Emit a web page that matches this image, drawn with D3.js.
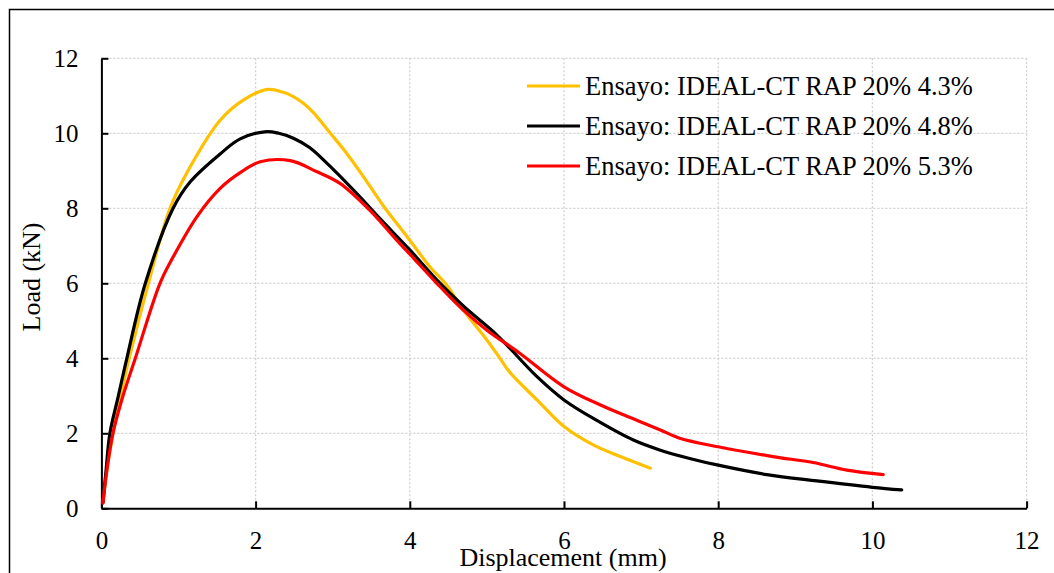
<!DOCTYPE html>
<html>
<head>
<meta charset="utf-8">
<script src="https://cdn.jsdelivr.net/npm/d3@7"></script>
<style>
  body { margin: 0; background: #fff; }
  text { font-family: "Liberation Serif", "Times New Roman", serif; fill: #000; }
</style>
</head>
<body>
<svg id="chart" width="1054" height="573"></svg>
<script>
// series names
const seriesNames = [
  'Ensayo: IDEAL-CT RAP 20% 4.3%',
  'Ensayo: IDEAL-CT RAP 20% 4.8%',
  'Ensayo: IDEAL-CT RAP 20% 5.3%'
];
const seriesColors = ['#FFC000', '#000000', '#FF0000'];

// displacement (mm) / load (kN)
const disp43 = [0.02, 0.07, 0.15, 0.25, 0.36, 0.61, 0.89, 1.15, 1.54, 1.85, 2.16, 2.35, 2.49, 2.62, 2.75, 2.97, 3.18, 3.40, 3.68, 3.83, 4.00, 4.26, 4.48, 4.69, 5.00, 5.17, 5.30, 5.65, 6.00, 6.38, 6.73, 7.12];
const load43 = [0.15, 1.0, 2.0, 3.0, 4.0, 6.0, 8.0, 9.1, 10.35, 10.9, 11.17, 11.1, 10.98, 10.8, 10.55, 10.0, 9.47, 8.84, 8.0, 7.6, 7.15, 6.44, 5.95, 5.3, 4.49, 4.0, 3.62, 2.89, 2.18, 1.69, 1.38, 1.07];

const disp48 = [0.02, 0.06, 0.11, 0.22, 0.33, 0.57, 0.93, 1.15, 1.54, 1.80, 2.12, 2.30, 2.49, 2.70, 2.88, 3.31, 3.61, 4.00, 4.35, 4.69, 5.13, 5.65, 6.00, 6.42, 6.90, 7.25, 7.63, 8.00, 8.63, 9.28, 10.00, 10.38];
const load48 = [0.15, 1.0, 2.0, 3.0, 4.0, 6.0, 8.0, 8.7, 9.45, 9.85, 10.04, 10.0, 9.87, 9.62, 9.29, 8.4, 7.73, 6.89, 6.09, 5.4, 4.62, 3.51, 2.89, 2.35, 1.82, 1.55, 1.33, 1.15, 0.9, 0.73, 0.56, 0.49];

const disp53 = [0.02, 0.07, 0.15, 0.28, 0.44, 0.76, 0.93, 1.24, 1.54, 1.80, 2.06, 2.45, 2.79, 3.09, 3.48, 3.83, 4.00, 4.35, 4.69, 5.00, 5.43, 6.00, 6.51, 6.99, 7.25, 7.50, 8.00, 8.71, 9.23, 9.67, 10.14];
const load53 = [0.14, 1.0, 2.0, 3.0, 4.0, 6.0, 6.7, 7.78, 8.53, 8.95, 9.24, 9.27, 8.98, 8.67, 7.95, 7.15, 6.78, 6.0, 5.29, 4.75, 4.13, 3.24, 2.72, 2.31, 2.09, 1.87, 1.64, 1.38, 1.22, 1.02, 0.9];

const xTicks = [0, 2, 4, 6, 8, 10, 12];
const yTicks = [0, 2, 4, 6, 8, 10, 12];

const series = [
  { name: seriesNames[0], color: seriesColors[0], values: disp43.map((d, i) => ({ x: d, y: load43[i] })) },
  { name: seriesNames[1], color: seriesColors[1], values: disp48.map((d, i) => ({ x: d, y: load48[i] })) },
  { name: seriesNames[2], color: seriesColors[2], values: disp53.map((d, i) => ({ x: d, y: load53[i] })) }
];

const svg = d3.select('#chart');
const margin = { top: 58.3, right: 27.4, bottom: 64.7, left: 101.4 };
const width = 1054, height = 573;

const xScale = d3.scaleLinear().domain([0, 12]).range([margin.left, width - margin.right]);
const yScale = d3.scaleLinear().domain([0, 12]).range([height - margin.bottom, margin.top]);

// outer frame (runs off the right and bottom edge)
svg.append('rect')
  .attr('x', 9.5).attr('y', 9.5)
  .attr('width', 1100).attr('height', 600)
  .attr('fill', 'none').attr('stroke', '#000').attr('stroke-width', 1.5);

// dotted grid
const grid = svg.append('g').attr('class', 'grid');
grid.selectAll('.hgrid')
  .data(yTicks.filter(t => t > 0))
  .join('line')
  .attr('x1', xScale(0)).attr('x2', xScale(12))
  .attr('y1', d => yScale(d)).attr('y2', d => yScale(d))
  .attr('stroke', '#d0d0d0').attr('stroke-width', 1.3).attr('stroke-dasharray', '2,2');
grid.selectAll('.vgrid')
  .data(xTicks.filter(t => t > 0))
  .join('line')
  .attr('x1', d => xScale(d)).attr('x2', d => xScale(d))
  .attr('y1', yScale(0)).attr('y2', yScale(12))
  .attr('stroke', '#d0d0d0').attr('stroke-width', 1.3).attr('stroke-dasharray', '2,2');

// axes, ticks point inward
const xAxis = d3.axisBottom(xScale).tickValues(xTicks).tickSizeInner(-7).tickSizeOuter(0).tickPadding(23);
const yAxis = d3.axisLeft(yScale).tickValues(yTicks).tickSizeInner(-7).tickSizeOuter(0).tickPadding(23);

const gx = svg.append('g')
  .attr('transform', `translate(0,${yScale(0)})`)
  .call(xAxis);
const gy = svg.append('g')
  .attr('transform', `translate(${xScale(0)},0)`)
  .call(yAxis);

[gx, gy].forEach(g => {
  g.select('.domain').attr('stroke', '#000').attr('stroke-width', 2);
  g.selectAll('.tick line').attr('stroke', '#000').attr('stroke-width', 2);
  g.selectAll('.tick text')
    .attr('font-family', '"Liberation Serif", "Times New Roman", serif')
    .attr('font-size', 25)
    .attr('fill', '#000');
});

// curves
const line = d3.line()
  .x(d => xScale(d.x))
  .y(d => yScale(d.y))
  .curve(d3.curveCatmullRom.alpha(0.5));

svg.append('g')
  .selectAll('path')
  .data(series)
  .join('path')
  .attr('fill', 'none')
  .attr('stroke', d => d.color)
  .attr('stroke-width', 3.2)
  .attr('stroke-linecap', 'round')
  .attr('stroke-linejoin', 'round')
  .attr('d', d => line(d.values));

// legend
const legend = svg.append('g').attr('class', 'legend');
const legendRows = [86, 126, 166];
series.forEach((s, i) => {
  legend.append('line')
    .attr('x1', 527).attr('x2', 580)
    .attr('y1', legendRows[i]).attr('y2', legendRows[i])
    .attr('stroke', s.color).attr('stroke-width', 3.2);
  legend.append('text')
    .attr('x', 585).attr('y', legendRows[i] + 9)
    .attr('font-size', 26.5)
    .text(s.name);
});

// axis titles
svg.append('text')
  .attr('transform', 'translate(40,277) rotate(-90)')
  .attr('text-anchor', 'middle')
  .attr('font-size', 26)
  .text('Load (kN)');

svg.append('text')
  .attr('x', 563).attr('y', 566)
  .attr('text-anchor', 'middle')
  .attr('font-size', 26)
  .text('Displacement (mm)');
</script>
</body>
</html>
